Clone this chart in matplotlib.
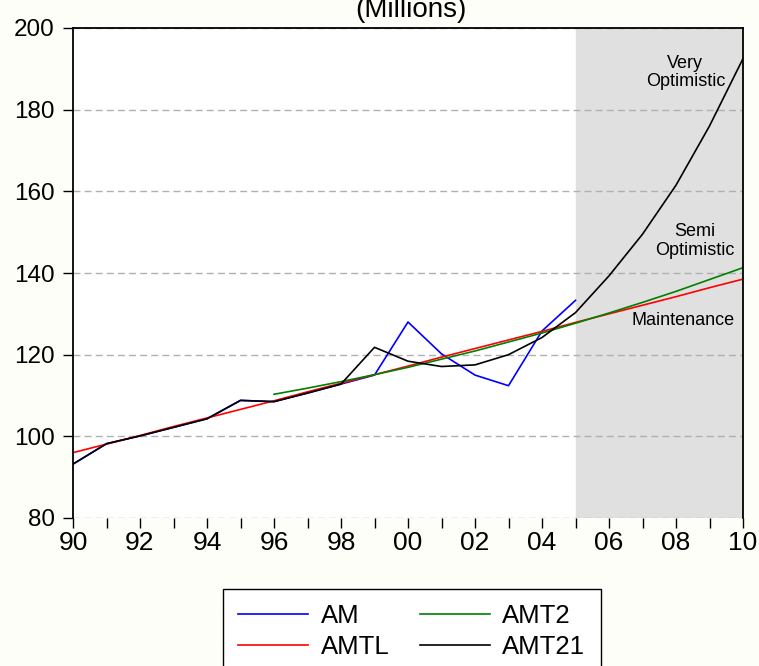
import matplotlib
matplotlib.use("Agg")
import matplotlib.pyplot as plt

plt.rcParams['font.family'] = ['Liberation Sans', 'DejaVu Sans']

years = list(range(1990, 2011))
am_years = list(range(1990, 2006))
amt2_years = list(range(1996, 2011))

am = [93.2, 98.2, 100.1, 102.2, 104.3, 108.8, 108.5, 110.6, 112.8,
      115.0, 128.0, 120.2, 115.0, 112.4, 125.8, 133.3]
amtl = [96.0, 98.1, 100.2, 102.4, 104.5, 106.6, 108.7, 110.9, 113.0, 115.1,
        117.2, 119.4, 121.5, 123.6, 125.7, 127.9, 130.0, 132.1, 134.2, 136.4, 138.5]
amt2 = [110.3, 111.8, 113.4, 115.1, 116.9, 118.9, 120.9, 123.1, 125.3, 127.7,
        130.2, 132.8, 135.5, 138.4, 141.3]
amt21 = [93.2, 98.2, 100.1, 102.2, 104.3, 108.8, 108.5, 110.6, 112.8, 121.8,
         118.4, 117.1, 117.5, 120.0, 124.2, 130.3, 139.3, 149.5, 161.5, 176.0, 192.5]

fig = plt.figure(figsize=(7.59, 6.66), dpi=100, facecolor='#fefef9')
ax = fig.add_axes([73/759, 1-518/666, 670/759, 490/666])

ax.axvspan(2005, 2010, color='#e0e0e0', zorder=0)

l1, = ax.plot(am_years, am, color='blue', lw=1.2, label='AM')
l2, = ax.plot(years, amtl, color='red', lw=1.2, label='AMTL')
l3, = ax.plot(amt2_years, amt2, color='green', lw=1.2, label='AMT2')
l4, = ax.plot(years, amt21, color='black', lw=1.2, label='AMT21')

ax.set_xlim(1990, 2010)
ax.set_ylim(80, 200)
ax.set_yticks(range(80, 201, 20))
ax.set_xticks(range(1990, 2011, 2))
ax.set_xticklabels(['%02d' % (y % 100) for y in range(1990, 2011, 2)])
ax.set_xticks(range(1990, 2011), minor=True)
ax.tick_params(axis='x', which='both', labelsize=19, direction='out', length=7, width=1, pad=2)
ax.tick_params(axis='y', labelsize=17.5, direction='out', length=7, width=1, pad=6)

ax.grid(axis='y', ls=(0, (5, 3)), color='#b0b0b0', lw=1)
ax.set_axisbelow(True)
ax.spines['bottom'].set_visible(False)
for s in ['left', 'top', 'right']:
    ax.spines[s].set_linewidth(1.3)

# title sits partly above the top edge, as in the original export
ax.text(0.505, 1 + 11/490, '(Millions)', fontsize=20, ha='center', va='baseline',
        transform=ax.transAxes)

ax.text(2008.28, 189.1, 'Very\nOptimistic', fontsize=13, ha='center', va='center', linespacing=1.15)
ax.text(2008.57, 147.8, 'Semi\nOptimistic', fontsize=13, ha='center', va='center', linespacing=1.15)
ax.text(2008.22, 128.25, 'Maintenance', fontsize=13, ha='center', va='center')

fig.legend(handles=[l1, l2, l3, l4], ncol=2, loc='upper left',
           bbox_to_anchor=(223/759, 1-589/666), fontsize=18.5,
           frameon=True, fancybox=False, edgecolor='black', framealpha=1,
           handlelength=2.7, handletextpad=0.5, columnspacing=1.2,
           labelspacing=0.25, borderpad=0.6, borderaxespad=0)

fig.savefig('out.png', dpi=100, facecolor=fig.get_facecolor())
